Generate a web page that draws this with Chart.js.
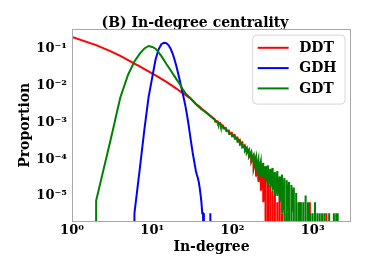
<!DOCTYPE html>
<html>
<head>
<meta charset="utf-8">
<script src="https://cdn.jsdelivr.net/npm/chart.js@4.4.0/dist/chart.umd.min.js"></script>
<style>
  html, body { margin: 0; padding: 0; background: #fff; }
  canvas { display: block; }
</style>
</head>
<body>
<canvas id="chart" width="390" height="262"></canvas>
<script>
// In-degree distributions (log-log)

const ddtDegree = [1, 2, 3, 4, 5, 6, 7, 8, 9, 10, 11, 12, 13, 14, 15, 16, 18, 20, 22, 24, 26, 28, 30, 32, 35, 38, 41, 45, 50, 55,
    60, 61, 65, 66, 70, 71, 76, 77, 83, 84, 90, 91, 98, 99, 106, 107, 115, 116, 123, 124, 132, 133, 142, 143,
    150, 151, 160, 161, 171, 172, 183, 184, 196, 197, 210, 211, 225, 226, 241, 242,
    258, 259, 276, 277, 295, 296, 316, 317, 338, 339, 362, 363, 387, 388, 414, 415, 474, 475,
    689, 690, 691, 919, 920, 921, 1479, 1480, 1481];
const ddtProportion = [0.212, 0.128, 0.088, 0.065, 0.050, 0.040, 0.0335, 0.0285, 0.0245, 0.0213, 0.0192, 0.0172, 0.0155, 0.014, 0.0127, 0.0116,
    0.0098, 0.0084, 0.0072, 0.0063, 0.0056, 0.0050, 0.0045, 0.0039, 0.0032, 0.0028, 0.0024, 0.00205, 0.0017, 0.00142,
    1.24e-3, 1.12e-3, 1.08e-3, 9.8e-4, 9.7e-4, 8.7e-4, 8.3e-4, 7.4e-4, 7.1e-4, 6.2e-4, 6.1e-4, 5.3e-4,
    5.3e-4, 4.5e-4, 4.6e-4, 3.9e-4, 3.9e-4, 3.2e-4, 3.4e-4, 2.7e-4, 2.9e-4, 2.2e-4, 2.4e-4, 1.8e-4,
    2.0e-4, 1.45e-4, 1.75e-4, 1.15e-4, 1.4e-4, 8.5e-5, 1.15e-4, 5.5e-5, 9.5e-5, 3.4e-5, 7.8e-5, 2.4e-5, 6.2e-5, 1.4e-5, 4.8e-5, 6.8e-6,
    3.8e-5, 0, 2.7e-5, 0, 2.0e-5, 0, 1.4e-5, 0, 1.03e-5, 0, 6.8e-6, 0, 1.03e-5, 0, 3.4e-6, 0, 3.4e-6, 0,
    0, 6.8e-6, 0, 0, 6.8e-6, 0, 0, 3.4e-6, 0];

const gdhDegree = [5, 6, 7, 8, 9, 10, 11, 12, 13, 14, 15, 16, 17, 18, 19, 20, 21, 22, 23, 24, 25, 26, 27, 28, 29,
    30, 31, 32, 33, 34, 35, 36, 37, 38, 39, 40, 41, 42, 43, 44, 52, 53, 54];
const gdhProportion = [0, 3.4e-6, 5.6e-5, 6.7e-4, 4.9e-3, 0.017, 0.052, 0.098, 0.135, 0.148, 0.145, 0.126, 0.1, 0.074, 0.051,
    0.034, 0.022, 0.0143, 0.0092, 0.0062, 0.0041, 0.0027, 0.0017, 0.00105, 6.2e-4,
    3.7e-4, 2.3e-4, 1.45e-4, 1.0e-4, 6.8e-5, 4.8e-5, 3.8e-5, 3.1e-5, 2.4e-5, 1.7e-5, 1.1e-5, 6.8e-6, 3.4e-6, 3.4e-6, 0, 0, 3.4e-6, 0];

const gdtDegree = [1, 2, 3, 4, 5, 6, 7, 8, 9, 10, 11, 12, 13, 14, 15, 16, 17, 18, 19, 20, 22, 24, 26, 28, 30, 32, 35, 38, 41, 45, 50, 55,
    60, 61, 65, 66, 70, 71, 76, 77, 83, 84, 90, 91, 98, 99, 106, 107, 115, 116, 123, 124, 132, 133, 142, 143,
    150, 151, 160, 161, 171, 172, 183, 184, 196, 197, 210, 211, 225, 226, 241, 242, 258, 259, 276, 277,
    295, 296, 316, 317, 338, 339, 362, 363, 387, 388, 414, 415,
    443, 444, 474, 475, 507, 508, 543, 544, 581, 582, 622, 623, 665, 666, 712, 713, 762, 763, 815, 816, 872, 873,
    933, 934, 998, 999, 1068, 1069, 1143, 1144, 1223, 1224, 1309, 1310, 1400, 1401, 1603, 1604, 1835, 1836, 1963, 1964, 2050];
const gdtProportion = [0, 7.5e-6, 3.1e-4, 4.8e-3, 0.020, 0.046, 0.075, 0.104, 0.121, 0.114, 0.102, 0.081, 0.064, 0.050, 0.039, 0.032,
    0.026, 0.0215, 0.018, 0.0152, 0.0112, 0.0080, 0.0062, 0.0053, 0.0046, 0.0039, 0.0032, 0.0027, 0.0023, 0.0020, 0.00165, 0.0014,
    1.18e-3, 1.05e-3, 1.02e-3, 9.2e-4, 9.2e-4, 8.1e-4, 7.8e-4, 6.9e-4, 6.7e-4, 5.8e-4, 5.7e-4, 4.9e-4,
    4.9e-4, 4.2e-4, 4.3e-4, 3.6e-4, 3.6e-4, 3.0e-4, 3.1e-4, 2.5e-4, 2.6e-4, 2.1e-4, 2.2e-4, 1.7e-4,
    2.0e-4, 1.5e-4, 1.8e-4, 1.25e-4, 1.6e-4, 1.0e-4, 1.3e-4, 6.8e-5, 1.15e-4, 5.5e-5, 1.0e-4, 4.4e-5, 8.5e-5, 3.4e-5, 8.0e-5, 3.1e-5,
    6.5e-5, 2.4e-5, 6.8e-5, 2.0e-5, 5.5e-5, 1.7e-5, 5.8e-5, 1.4e-5, 4.5e-5, 1.0e-5, 4.8e-5, 1.0e-5, 3.4e-5, 6.8e-6, 3.8e-5, 3.4e-6,
    3.1e-5, 0, 2.7e-5, 3.4e-6, 2.4e-5, 0, 2.0e-5, 3.4e-6, 1.7e-5, 0, 1.2e-5, 0, 6.8e-6, 0, 6.8e-6, 0, 6.8e-6, 0, 1.03e-5, 0, 6.8e-6, 0,
    3.4e-6, 0, 3.4e-6, 0, 6.8e-6, 0, 3.4e-6, 0, 3.4e-6, 0, 3.4e-6, 0, 3.4e-6, 0, 3.4e-6, 0, 3.4e-6, 0, 3.4e-6, 0, 3.4e-6];

const seriesNames = ['DDT', 'GDH', 'GDT'];
const seriesColors = ['#ff0000', '#0000ff', '#008000'];
const xTickValues = [1, 10, 100, 1000];
const yTickValues = [1e-5, 1e-4, 1e-3, 1e-2, 1e-1];
const titleText = '(B) In-degree centrality';
const xLabel = 'In-degree';
const yLabel = 'Proportion';

const FONT = 'DejaVu Serif';
const SUP = { '-': '\u207B', '0': '\u2070', '1': '\u00B9', '2': '\u00B2', '3': '\u00B3', '4': '\u2074', '5': '\u2075' };

function powerLabel(v) {
    const e = Math.round(Math.log10(v));
    return '10' + String(e).split('').map(c => SUP[c]).join('');
}

// log scale where a zero proportion falls off the bottom (like matplotlib's clipping)
class ZeroLogScale extends Chart.LogarithmicScale {
    parse(raw, index) {
        return raw === 0 ? 0 : super.parse(raw, index);
    }
    getPixelForValue(value) {
        return value === 0 ? this.bottom + 10000 : super.getPixelForValue(value);
    }
}
ZeroLogScale.id = 'zerolog';
ZeroLogScale.defaults = Chart.LogarithmicScale.defaults;
Chart.register(ZeroLogScale);

const framePlugin = {
    id: 'frame',
    afterDatasetsDraw(chart) {
        const { ctx, chartArea: a } = chart;
        ctx.save();
        ctx.strokeStyle = '#a8a8a8';
        ctx.lineWidth = 1;
        ctx.strokeRect(Math.round(a.left) + 0.5, Math.round(a.top) + 0.5,
            Math.round(a.right - a.left) - 1, Math.round(a.bottom - a.top) - 1);
        ctx.restore();
    }
};

const legendPlugin = {
    id: 'insideLegend',
    afterDraw(chart) {
        const { ctx, chartArea: a } = chart;
        const sets = chart.data.datasets;
        ctx.save();
        ctx.font = 'bold 14px "' + FONT + '"';
        const textW = Math.max(...sets.map(d => ctx.measureText(d.label).width));
        const w = 47 + textW + 8, h = 69;
        const x = a.right - 6 - w, y = a.top + 6.5;
        ctx.beginPath();
        ctx.roundRect(x, y, w, h, 4);
        ctx.fillStyle = 'rgba(255,255,255,0.85)';
        ctx.fill();
        ctx.strokeStyle = '#d6d6d6';
        ctx.lineWidth = 1;
        ctx.stroke();
        ctx.textBaseline = 'middle';
        sets.forEach((d, i) => {
            const cy = y + 12.7 + i * 20.3;
            ctx.beginPath();
            ctx.moveTo(x + 5, cy);
            ctx.lineTo(x + 36, cy);
            ctx.strokeStyle = d.borderColor;
            ctx.lineWidth = 2;
            ctx.stroke();
            ctx.fillStyle = '#000';
            ctx.fillText(d.label, x + 46.5, cy + 0.5);
        });
        ctx.restore();
    }
};

const makeSeries = (xs, ys) => xs.map((x, i) => ({ x: x, y: ys[i] }));
const common = { borderWidth: 2, pointRadius: 0, fill: false, tension: 0, clip: 0 };

new Chart(document.getElementById('chart'), {
    type: 'line',
    data: {
        datasets: [
            { ...common, label: seriesNames[0], data: makeSeries(ddtDegree, ddtProportion), borderColor: seriesColors[0], order: 3 },
            { ...common, label: seriesNames[1], data: makeSeries(gdhDegree, gdhProportion), borderColor: seriesColors[1], order: 2 },
            { ...common, label: seriesNames[2], data: makeSeries(gdtDegree, gdtProportion), borderColor: seriesColors[2], order: 1 }
        ]
    },
    options: {
        responsive: false,
        animation: false,
        layout: { padding: 0 },
        plugins: {
            legend: { display: false },
            tooltip: { enabled: false },
            title: {
                display: true,
                text: titleText,
                color: '#000',
                font: { family: FONT, weight: 'bold', size: 14 },
                padding: { top: 14.8, bottom: -3 }
            }
        },
        scales: {
            x: {
                type: 'logarithmic',
                min: 1,
                max: 3000,
                grid: { display: false, drawTicks: false },
                border: { display: false },
                afterBuildTicks: s => { s.ticks = xTickValues.map(v => ({ value: v })); },
                afterFit: s => { s.height = 40; },
                ticks: {
                    autoSkip: false, maxRotation: 0, padding: 1, color: '#000',
                    font: { family: FONT, weight: 'bold', size: 13 },
                    callback: v => powerLabel(v)
                },
                title: {
                    display: true, text: xLabel, color: '#000',
                    font: { family: FONT, weight: 'bold', size: 14 },
                    padding: { top: 0, bottom: 6.5 }
                }
            },
            y: {
                type: 'zerolog',
                min: 1.96e-6,
                max: 0.36,
                grid: { display: false, drawTicks: false },
                border: { display: false },
                afterBuildTicks: s => { s.ticks = yTickValues.map(v => ({ value: v })); },
                afterFit: s => { s.width = 72; },
                ticks: {
                    autoSkip: false, padding: 5, color: '#000',
                    font: { family: FONT, weight: 'bold', size: 13 },
                    callback: v => powerLabel(v)
                },
                title: {
                    display: true, text: yLabel, color: '#000',
                    font: { family: FONT, weight: 'bold', size: 14 },
                    padding: { top: 16.6, bottom: 0 }
                }
            },
            // empty right-hand strip so the plot box ends where the reference's does
            side: {
                type: 'linear',
                position: 'right',
                display: true,
                grid: { display: false, drawTicks: false },
                border: { display: false },
                ticks: { display: false },
                afterFit: s => { s.width = 39; }
            }
        }
    },
    plugins: [framePlugin, legendPlugin]
});
</script>
</body>
</html>
